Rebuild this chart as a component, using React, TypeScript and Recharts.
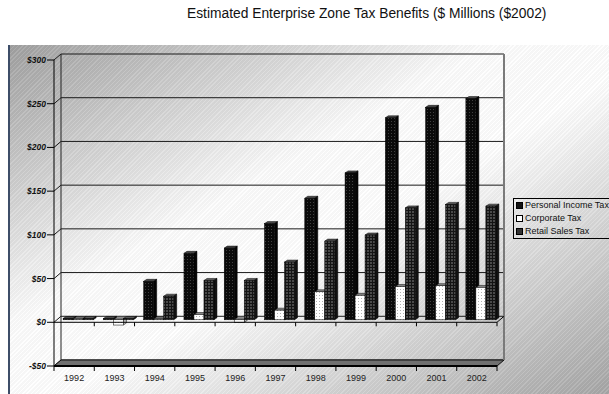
import React from 'react';
import { BarChart, Bar, XAxis, YAxis, CartesianGrid, ReferenceArea, ReferenceLine, Legend } from 'recharts';

const years = ['1992', '1993', '1994', '1995', '1996', '1997', '1998', '1999', '2000', '2001', '2002'];
const personalIncomeTax = [1.5, 1.5, 44, 76, 82, 110, 139, 168, 231, 243, 253];
const corporateTax = [1, -6, 1, 6, -3, 11, 32, 28, 38, 39, 37];
const retailSalesTax = [1.5, 1.5, 27, 45, 45, 66, 90, 97, 128, 132, 130];
const yTicks = [-50, 0, 50, 100, 150, 200, 250, 300];
const seriesNames = ['Personal Income Tax', 'Corporate Tax', 'Retail Sales Tax'];
const title = 'Estimated Enterprise Zone Tax Benefits ($ Millions ($2002)';

const data = years.map((year, i) => ({
  year,
  personal: personalIncomeTax[i],
  corporate: corporateTax[i],
  retail: retailSalesTax[i],
}));

const W = 609;
const H = 394;
const MARGIN = { top: 60, right: 112, left: 10, bottom: 8 };
const Y_W = 44;
const X_H = 20;
const PLOT_W = W - MARGIN.left - Y_W - MARGIN.right;
const BAND = PLOT_W / years.length;
const WDX = 7; // wall depth
const WDY = 6;
const BSX = 3.5; // bar mid-depth shift
const BSY = 2.5;
const BDX = 3; // bar depth
const BDY = 2;
const FONT = '"Liberation Sans", Arial, sans-serif';

const make3DBar = (front: string, top: string, side: string) => (props: any) => {
  const { x, y, width, height } = props;
  if (x == null || y == null || !width) return <g />;
  const hh = Number(height) || 0;
  const t = hh >= 0 ? y : y + hh;
  const h = Math.max(Math.abs(hh), 0.8);
  const fx = x + BSX;
  const fy = t - BSY;
  return (
    <g>
      <polygon
        points={`${fx},${fy} ${fx + BDX},${fy - BDY} ${fx + width + BDX},${fy - BDY} ${fx + width},${fy}`}
        fill={top}
        stroke="#000"
        strokeWidth={0.5}
      />
      <polygon
        points={`${fx + width},${fy} ${fx + width + BDX},${fy - BDY} ${fx + width + BDX},${fy - BDY + h} ${fx + width},${fy + h}`}
        fill={side}
        stroke="#000"
        strokeWidth={0.5}
      />
      <rect x={fx} y={fy} width={width} height={h} fill={front} stroke="#000" strokeWidth={0.5} />
    </g>
  );
};

const personalShape = make3DBar('url(#patPersonal)', '#4a4a4a', '#050505');
const corporateShape = make3DBar('url(#patCorporate)', '#8a8a8a', '#bdbdbd');
const retailShape = make3DBar('url(#patRetail)', '#5a5a5a', '#111111');

const gridLine = (props: any) => {
  const { x1, x2, y1 } = props;
  return (
    <polyline
      key={`g-${y1}`}
      points={`${x1},${y1} ${x1 + WDX},${y1 - WDY} ${x2 + WDX},${y1 - WDY}`}
      fill="none"
      stroke="#1a1a1a"
      strokeWidth={1}
    />
  );
};

const wallShape = (props: any) => {
  const { x, y, width, height } = props;
  const bottom = y + height;
  const right = x + width;
  return (
    <g>
      <polygon
        points={`${x},${bottom} ${x + WDX},${bottom - WDY} ${right + WDX},${bottom - WDY} ${right},${bottom}`}
        fill="#707070"
        stroke="#111"
        strokeWidth={1}
      />
      <line x1={x} y1={bottom} x2={right} y2={bottom} stroke="#000" strokeWidth={2} />
      <line x1={x + WDX} y1={y - WDY} x2={x + WDX} y2={bottom - WDY} stroke="#222" strokeWidth={1} />
      <line x1={right + WDX} y1={y - WDY} x2={right + WDX} y2={bottom - WDY} stroke="#7a7a7a" strokeWidth={2} />
      <line x1={x} y1={y} x2={x} y2={bottom} stroke="#000" strokeWidth={1} />
    </g>
  );
};

const zeroPlane = (props: any) => {
  const { x1, y1, x2 } = props;
  if (x1 == null) return <g />;
  const band = (x2 - x1) / years.length;
  return (
    <g>
      <line x1={x1} y1={y1} x2={x2} y2={y1} stroke="#000" strokeWidth={1} />
      <line x1={x2} y1={y1} x2={x2 + WDX} y2={y1 - WDY} stroke="#000" strokeWidth={1} />
      {years.map((yr, i) => (
        <line key={yr} x1={x1 + band * (i + 1)} y1={y1} x2={x1 + band * (i + 1)} y2={y1 + 4} stroke="#000" strokeWidth={1} />
      ))}
    </g>
  );
};

const XTick = (props: any) => {
  const { x, y, payload, index } = props;
  return (
    <g>
      <line x1={x - BAND / 2} y1={y} x2={x - BAND / 2} y2={y + 5} stroke="#000" strokeWidth={1} />
      {index === years.length - 1 && (
        <line x1={x + BAND / 2} y1={y} x2={x + BAND / 2} y2={y + 5} stroke="#000" strokeWidth={1} />
      )}
      <text x={x} y={y + 15} textAnchor="middle" fontFamily={FONT} fontSize={9} fill="#222">
        {payload.value}
      </text>
    </g>
  );
};

const YTick = (props: any) => {
  const { x, y, payload } = props;
  const v = payload.value as number;
  const label = v < 0 ? `-$${Math.abs(v)}` : `$${v}`;
  return (
    <g>
      <line x1={x - 7} y1={y} x2={x} y2={y} stroke="#000" strokeWidth={1} />
      <text x={x - 8} y={y + 3} textAnchor="end" fontFamily={FONT} fontSize={8.5} fontWeight="bold" fontStyle="italic" fill="#111">
        {label}
      </text>
    </g>
  );
};

const swatches = [
  { background: '#111', border: '1px solid #000' },
  { background: '#fff', border: '1px solid #000' },
  { background: '#333', border: '1px solid #000' },
];

const renderLegend = () => (
  <div
    style={{
      border: '1px solid #000',
      width: 100,
      height: 39,
      boxSizing: 'content-box',
      fontFamily: FONT,
      fontSize: 9,
      lineHeight: '13px',
      color: '#111',
      paddingLeft: 2,
    }}
  >
    {seriesNames.map((n, i) => (
      <div key={n} style={{ display: 'flex', alignItems: 'center', whiteSpace: 'nowrap', height: 13 }}>
        <span style={{ display: 'inline-block', width: 5, height: 5, marginRight: 2, ...swatches[i] }} />
        {n}
      </div>
    ))}
  </div>
);

export default function App() {
  return (
    <div style={{ position: 'absolute', left: 0, top: 0, width: W, height: H, overflow: 'hidden', background: '#fff' }}>
      <svg width={0} height={0} style={{ position: 'absolute' }}>
        <defs>
          <pattern id="patPersonal" width={3} height={3} patternUnits="userSpaceOnUse">
            <rect width={3} height={3} fill="#0a0a0a" />
            <rect x={1} y={1} width={1} height={1} fill="#404040" />
          </pattern>
          <pattern id="patCorporate" width={3} height={3} patternUnits="userSpaceOnUse">
            <rect width={3} height={3} fill="#ffffff" />
            <rect x={1} y={1} width={1} height={1} fill="#b0b0b0" />
          </pattern>
          <pattern id="patRetail" width={3} height={3} patternUnits="userSpaceOnUse">
            <rect width={3} height={3} fill="#141414" />
            <rect x={1} y={1} width={2} height={2} fill="#4a4a4a" />
          </pattern>
        </defs>
      </svg>
      <div
        style={{
          position: 'absolute',
          left: 10,
          top: 45,
          width: W - 10,
          height: H - 45,
          background:
            'repeating-linear-gradient(135deg, rgba(255,255,255,0.10) 0px, rgba(255,255,255,0.10) 1px, rgba(0,0,0,0.03) 1px, rgba(0,0,0,0.03) 3px), linear-gradient(to bottom right, #a0a0a0 0%, #fdfdfd 40%, #ffffff 55%, #a6a6a6 100%)',
        }}
      />
      <div style={{ position: 'absolute', left: 8, top: 45, width: 2, height: H - 45, background: '#3d4d68' }} />
      <div
        style={{
          position: 'absolute',
          left: 187,
          top: 6,
          whiteSpace: 'nowrap',
          fontFamily: FONT,
          fontSize: 13.8,
          color: '#111',
        }}
      >
        {title}
      </div>
      <div style={{ position: 'absolute', left: 0, top: 0 }}>
        <BarChart width={W} height={H} data={data} margin={MARGIN} barCategoryGap="14%" barGap={0}>
          <CartesianGrid horizontal={gridLine} vertical={false} />
          <ReferenceArea y1={-50} y2={300} shape={wallShape} ifOverflow="visible" />
          <XAxis dataKey="year" height={X_H} axisLine={false} tickLine={false} tickSize={0} tickMargin={0} tick={<XTick />} interval={0} />
          <YAxis
            width={Y_W}
            domain={[-50, 300]}
            ticks={yTicks}
            axisLine={false}
            tickLine={false}
            tickSize={0}
            tickMargin={0}
            tick={<YTick />}
            interval={0}
          />
          <Bar dataKey="personal" name={seriesNames[0]} shape={personalShape} isAnimationActive={false} />
          <Bar dataKey="corporate" name={seriesNames[1]} shape={corporateShape} isAnimationActive={false} />
          <Bar dataKey="retail" name={seriesNames[2]} shape={retailShape} isAnimationActive={false} />
          <ReferenceLine y={0} shape={zeroPlane} ifOverflow="visible" />
          <Legend
            layout="horizontal"
            verticalAlign="middle"
            align="center"
            content={renderLegend}
            wrapperStyle={{ left: 513, top: 198, width: 110, right: 'auto', bottom: 'auto' }}
          />
        </BarChart>
      </div>
    </div>
  );
}
